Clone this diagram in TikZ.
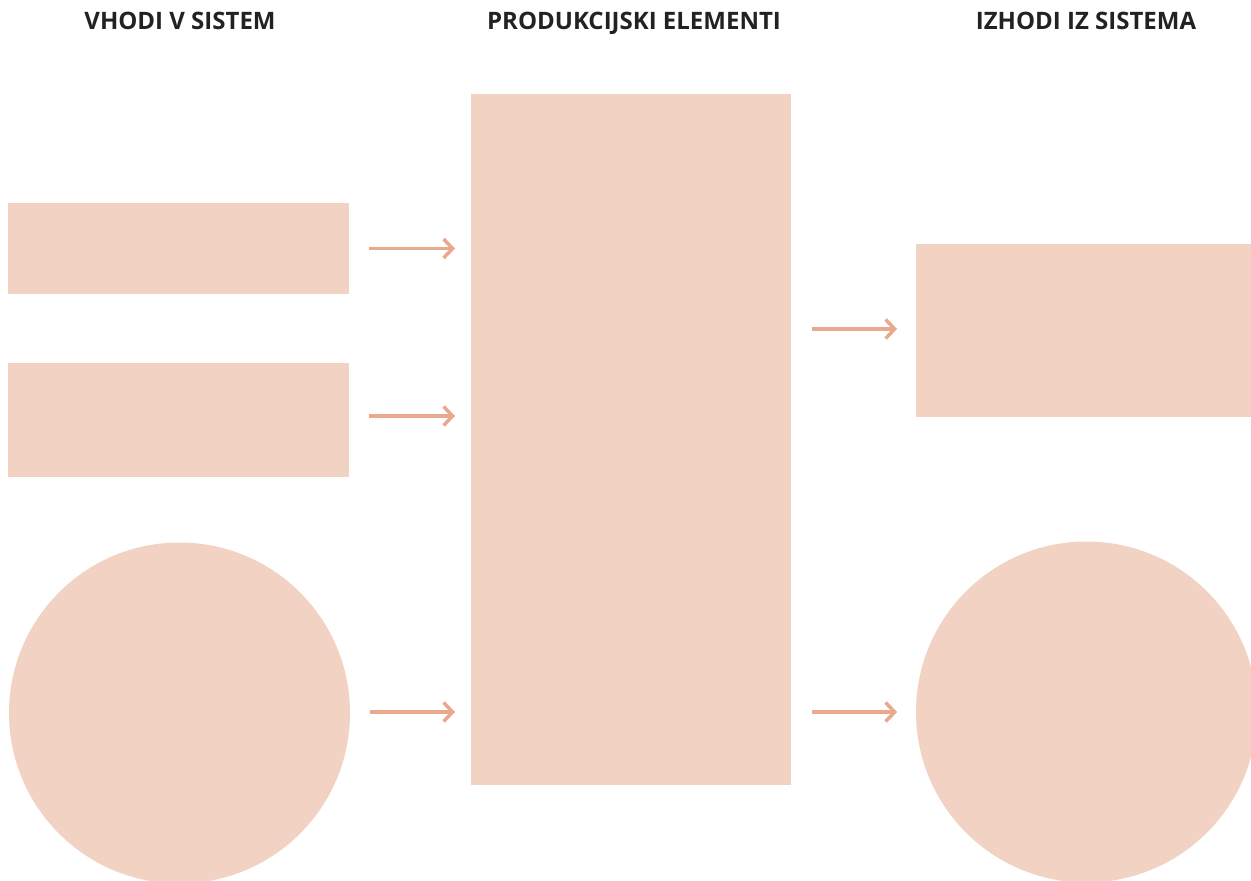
\documentclass[tikz,border=0pt]{standalone}
\usepackage{fontspec}
\setmainfont{Open Sans}
\usetikzlibrary{arrows.meta}
\definecolor{boxfill}{HTML}{F2D3C3}
\definecolor{arrowcol}{HTML}{E8A98E}
\definecolor{headcol}{HTML}{222222}
\begin{document}
\begin{tikzpicture}[x=1pt,y=-1pt,
  block/.style={fill=boxfill,draw=none,rectangle,inner sep=0pt,outer sep=0pt},
  disc/.style={fill=boxfill,draw=none,circle,inner sep=0pt,outer sep=0pt,minimum size=341pt},
  head/.style={font=\bfseries\fontsize{24}{28}\selectfont,text=headcol,inner sep=0pt,anchor=base},
  flow/.style={draw=arrowcol,line width=3.5pt,-{Straight Barb[length=9pt,width=19pt,line width=3.5pt]}}]
\useasboundingbox (0,0) rectangle (1251,881);
\clip (0,0) rectangle (1251,881);
% column headings
\node[head] (h1) at (180,29) {VHODI V SISTEM};
\node[head] (h2) at (634,29) {PRODUKCIJSKI ELEMENTI};
\node[head] (h3) at (1086,29) {IZHODI IZ SISTEMA};
% inputs
\node[block,minimum width=341pt,minimum height=91pt] (in1) at (178.5,248.5) {};
\node[block,minimum width=341pt,minimum height=114pt] (in2) at (178.5,420) {};
\node[disc] (in3) at (179.5,713) {};
% production elements
\node[block,minimum width=320pt,minimum height=691pt] (mid) at (631,439.5) {};
% outputs
\node[block,minimum width=340pt,minimum height=173pt] (out1) at (1086,330.5) {};
\node[disc] (out2) at (1086.5,712) {};
% flows
\draw[flow,shorten <=20pt,shorten >=16pt] (in1.east) -- (in1.east -| mid.west);
\draw[flow,shorten <=20pt,shorten >=16pt] ([yshift=4pt]in2.east) -- ([yshift=4pt]in2.east -| mid.west);
\draw[flow,shorten <=20pt,shorten >=16pt] ([yshift=1pt]in3.east) -- ([yshift=1pt]in3.east -| mid.west);
\draw[flow,shorten <=21pt,shorten >=19pt] ([yshift=1.5pt]out1.west -| mid.east) -- ([yshift=1.5pt]out1.west);
\draw[flow,shorten <=21pt,shorten >=19pt] (out2.west -| mid.east) -- (out2.west);
\end{tikzpicture}
\end{document}
